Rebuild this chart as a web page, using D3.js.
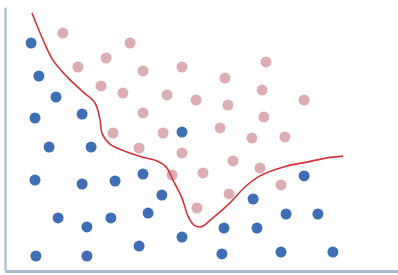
<!DOCTYPE html>
<html><head><meta charset="utf-8">
<script src="https://cdn.jsdelivr.net/npm/d3@7"></script>
<style>html,body{margin:0;padding:0;background:#fff;overflow:hidden}</style>
</head><body>
<svg id="chart" width="398" height="275"></svg>
<script>
const blueX = [8.7,11.3,17,10,25.7,14.7,28.7,10,25.7,36.7,46,59,52.3,17.7,27.3,35.3,47.7,59,44.7,10.3,27.3,72.3,73,84,82.7,93.7,104.3,99.7,92,109.3];
const blueY = [76,65,58,51,52.3,41.3,41.3,30.3,29,30,32.3,46.3,25.3,17.7,14.7,17.7,19.3,11.3,8.3,5,5,5.7,14.3,14.3,24,19,19,31.7,6.3,6.3];
const pinkX = [19.3,41.7,33.7,24.3,46,59,87,32,39.3,54,63.7,73.3,85.7,99.7,46,74.3,86.3,36,52.7,71.7,82.3,93.3,44.7,59,76,85,55.7,66,92,74.7,64];
const pinkY = [79.3,76,71,68,66.7,68,69.7,61.7,59.3,58.7,57,64.3,60.3,57,52.7,55.3,51.3,46,46,47.7,44.3,44.7,41,39.3,36.7,34.3,32,32.7,28.7,25.7,21];
const curveX = [9,12.7,16,20.7,26,30,31.7,32.3,35,40.7,45.7,50.7,53.7,56,59,61,63,65.3,69.3,75,80,85,94,100.7,107.3,112.7];
const curveY = [86,77,70.3,64.7,59.7,56,50.3,46,42.3,39.7,38,36.7,34.7,30.3,24.3,18.3,15.3,14.7,17.7,22.7,28,31.7,35,36.3,37.7,38.3];

const svg = d3.select("#chart");
const x = d3.scaleLinear().domain([0,131]).range([5,398]);
const y = d3.scaleLinear().domain([0,88]).range([271,7]);

// axes (lines only)
const gy = svg.append("g").attr("transform","translate(5,0)")
  .call(d3.axisLeft(y).tickValues([]).tickSizeOuter(0));
gy.select(".domain").attr("stroke","#9fbad6").attr("stroke-width",2);
const gx = svg.append("g").attr("transform","translate(0,271)")
  .call(d3.axisBottom(x).tickValues([]).tickSizeOuter(0));
gx.select(".domain").attr("stroke","#a9b8c8").attr("stroke-width",3);

svg.append("g").selectAll("circle").data(pinkX.map((v,i)=>[v,pinkY[i]])).join("circle")
  .attr("cx",d=>x(d[0])).attr("cy",d=>y(d[1])).attr("r",5.5).attr("fill","#dcaeb3");
svg.append("g").selectAll("circle").data(blueX.map((v,i)=>[v,blueY[i]])).join("circle")
  .attr("cx",d=>x(d[0])).attr("cy",d=>y(d[1])).attr("r",5.5).attr("fill","#3f6eb4");

const line = d3.line().x(d=>x(d[0])).y(d=>y(d[1])).curve(d3.curveCatmullRom.alpha(0.5));
svg.append("path").datum(curveX.map((v,i)=>[v,curveY[i]]))
  .attr("d",line).attr("fill","none").attr("stroke","#d2333b").attr("stroke-width",1.6);
</script>
</body></html>
